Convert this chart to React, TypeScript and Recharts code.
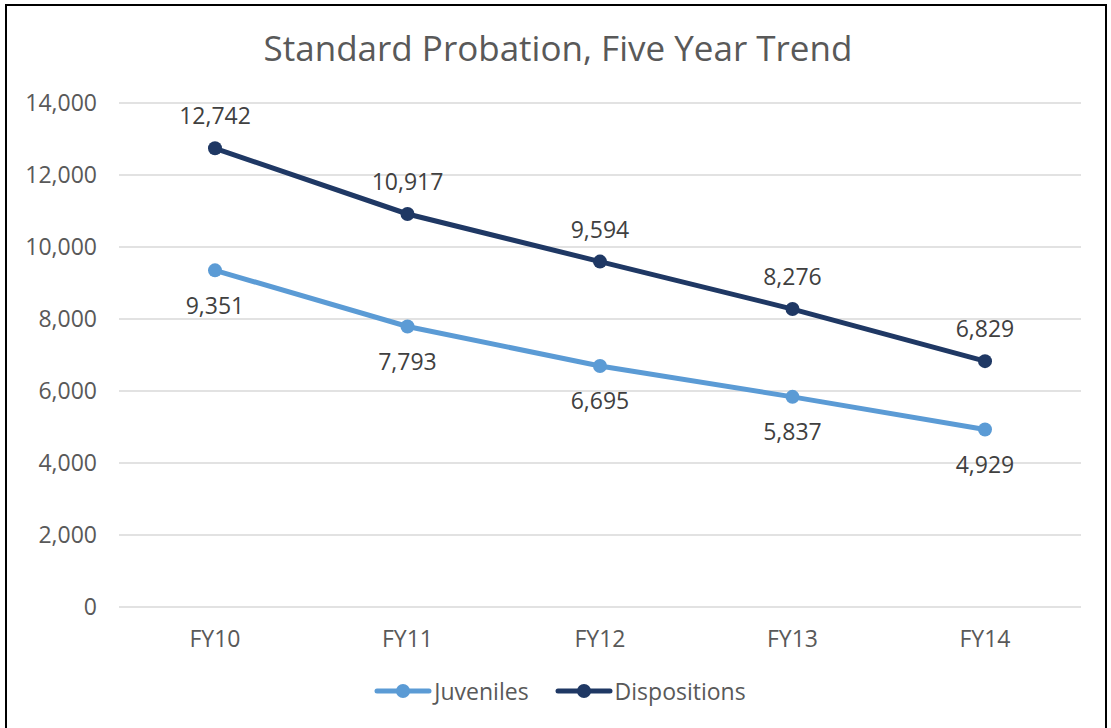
import React from "react";
import { LineChart, Line, XAxis, YAxis, CartesianGrid, Legend, LabelList } from "recharts";

const categories = ["FY10", "FY11", "FY12", "FY13", "FY14"];
const juveniles = [9351, 7793, 6695, 5837, 4929];
const dispositions = [12742, 10917, 9594, 8276, 6829];
const yTicks = [0, 2000, 4000, 6000, 8000, 10000, 12000, 14000];

const data = categories.map((c, i) => ({ name: c, Juveniles: juveniles[i], Dispositions: dispositions[i] }));

const FONT = "'Open Sans', 'Noto Sans', sans-serif";
const TEXT = "#595959";
const LIGHT = "#5B9BD5";
const DARK = "#1F3864";
const FS = 23;

const fmt = (v: any) => Number(v).toLocaleString("en-US");

const LegendContent = () => (
  <div style={{ display: "flex", justifyContent: "center", alignItems: "center", height: 40, fontFamily: FONT, fontSize: FS, color: TEXT }}>
    {[{ n: "Juveniles", c: LIGHT }, { n: "Dispositions", c: DARK }].map((it, i) => (
      <div key={it.n} style={{ display: "flex", alignItems: "center", marginLeft: i ? 26 : 0 }}>
        <svg width={58} height={16}>
          <line x1={3} y1={8} x2={55} y2={8} stroke={it.c} strokeWidth={5} strokeLinecap="round" />
          <circle cx={29} cy={8} r={7} fill={it.c} />
        </svg>
        <span style={{ marginLeft: 2 }}>{it.n}</span>
      </div>
    ))}
  </div>
);

export default function App() {
  return (
    <div style={{ position: "fixed", left: 0, top: 0, width: 1111, height: 728, background: "#fff", overflow: "hidden" }}>
      <div style={{ position: "absolute", left: 5, top: 4, width: 1102, height: 740, border: "2px solid #000", boxSizing: "border-box" }} />
      <div style={{ position: "absolute", left: 0, top: 24, width: 1116, textAlign: "center", fontFamily: FONT, fontSize: 35, color: TEXT }}>
        Standard Probation, Five Year Trend
      </div>
      <div style={{ position: "absolute", left: 0, top: 0 }}>
        <LineChart width={1111} height={728} data={data} margin={{ top: 103, right: 30, left: 39, bottom: 17 }}>
          <CartesianGrid vertical={false} stroke="#D9D9D9" strokeWidth={1.5} />
          <XAxis dataKey="name" axisLine={false} tickLine={false} height={64} tickMargin={18} padding={{ left: 96, right: 96 }}
            tick={{ fill: TEXT, fontFamily: FONT, fontSize: FS }} />
          <YAxis width={80} domain={[0, 14000]} ticks={yTicks} axisLine={false} tickLine={false} tickMargin={16}
            tickFormatter={fmt} tick={{ fill: TEXT, fontFamily: FONT, fontSize: FS }} />
          <Legend verticalAlign="bottom" content={<LegendContent />} />
          <Line dataKey="Juveniles" stroke={LIGHT} strokeWidth={5} dot={{ r: 7, fill: LIGHT, stroke: LIGHT, strokeWidth: 0 }} isAnimationActive={false}>
            <LabelList dataKey="Juveniles" position="bottom" offset={27} formatter={fmt} style={{ fill: "#404040", fontFamily: FONT, fontSize: FS }} />
          </Line>
          <Line dataKey="Dispositions" stroke={DARK} strokeWidth={5} dot={{ r: 7, fill: DARK, stroke: DARK, strokeWidth: 0 }} isAnimationActive={false}>
            <LabelList dataKey="Dispositions" position="top" offset={24} formatter={fmt} style={{ fill: "#404040", fontFamily: FONT, fontSize: FS }} />
          </Line>
        </LineChart>
      </div>
    </div>
  );
}
